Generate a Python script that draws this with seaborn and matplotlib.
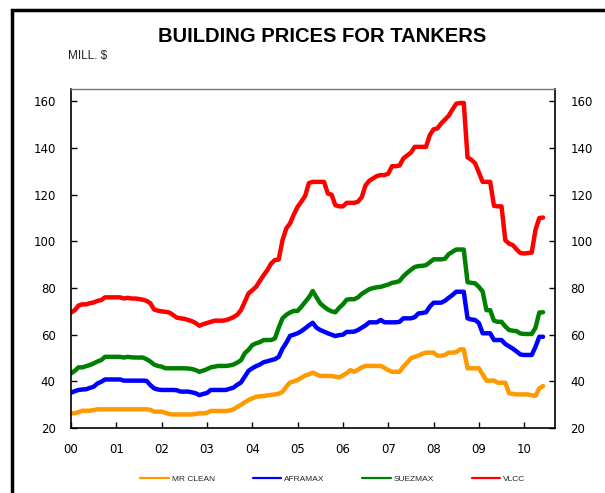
import numpy as np
import pandas as pd
import seaborn as sns
import matplotlib
matplotlib.use("Agg")
import matplotlib.pyplot as plt
from matplotlib.patches import Rectangle
from matplotlib.lines import Line2D

# ---- data (monthly, Jan 2000 .. Jun 2010), MILL. $ ----
year_labels = ["00", "01", "02", "03", "04", "05", "06", "07", "08", "09", "10"]
series_names = ["MR CLEAN", "AFRAMAX", "SUEZMAX", "VLCC"]
series_colors = ["#FF9900", "#0000FF", "#008000", "#FF0000"]

mr_clean = [
    26.3, 26.3, 26.8, 27.4, 27.4, 27.4, 27.7, 28, 28, 28, 28, 28,
    28, 28, 28, 28, 28, 28, 28, 28, 28, 27.8, 27, 27,
    27, 26.5, 26, 25.8, 25.8, 25.8, 25.8, 25.8, 25.8, 26, 26.3, 26.3,
    26.5, 27.3, 27.3, 27.3, 27.3, 27.3, 27.5, 28, 29, 29.9, 31, 32,
    32.7, 33.4, 33.6, 33.7, 34, 34.2, 34.4, 34.7, 35.5, 37.7, 39.5, 40,
    40.6, 41.5, 42.5, 43, 43.7, 43, 42.3, 42.3, 42.3, 42.3, 42, 41.7,
    42.5, 43.5, 44.8, 44.1, 45, 46, 46.6, 46.6, 46.6, 46.6, 46.6, 45.8,
    44.8, 44.1, 44.1, 44.1, 46.3, 48, 49.9, 50.5, 51, 51.8, 52.3, 52.3,
    52.3, 51, 51, 51.3, 52.3, 52.3, 52.5, 53.7, 53.7, 45.6, 45.6, 45.6,
    45.6, 43, 40.3, 40.3, 40.3, 39.4, 39.4, 39.4, 34.9, 34.6, 34.4, 34.4,
    34.4, 34.4, 34, 33.8, 37, 38,
]
aframax = [
    35.1, 35.8, 36.3, 36.5, 36.6, 37.2, 37.7, 39.1, 39.8, 40.8, 40.8, 40.8,
    40.8, 40.8, 40.3, 40.3, 40.3, 40.3, 40.3, 40.3, 40.2, 38.4, 37, 36.5,
    36.3, 36.3, 36.3, 36.3, 36.2, 35.6, 35.6, 35.6, 35.3, 34.9, 34.1, 34.6,
    35, 36.3, 36.3, 36.3, 36.3, 36.3, 36.8, 37.3, 38.5, 39.5, 42, 44.5,
    45.6, 46.5, 47.2, 48.2, 48.6, 49.1, 49.5, 50.5, 54, 56.5, 59.5, 60,
    60.6, 61.5, 62.7, 64, 65.1, 63, 62, 61.3, 60.6, 60, 59.4, 59.8,
    60, 61.2, 61.2, 61.3, 62, 63, 64, 65.3, 65.3, 65.3, 66.3, 65.3,
    65.3, 65.3, 65.3, 65.5, 67, 67, 67, 67.5, 69.1, 69.3, 69.6, 72,
    73.7, 73.7, 73.7, 74.5, 75.8, 77, 78.4, 78.4, 78.4, 67, 66.5, 66.3,
    65, 60.6, 60.6, 60.6, 57.7, 57.7, 57.7, 56, 55, 54, 52.8, 51.5,
    51.3, 51.3, 51.3, 54.8, 59.1, 59.1,
]
suezmax = [
    43.4, 44.5, 46, 46, 46.5, 47, 47.7, 48.5, 49.1, 50.5, 50.5, 50.5,
    50.5, 50.5, 50.2, 50.5, 50.3, 50.2, 50.2, 50.2, 49.5, 48.5, 47.2, 46.6,
    46.3, 45.6, 45.6, 45.6, 45.6, 45.6, 45.6, 45.5, 45.3, 44.8, 44.1, 44.6,
    45.2, 46, 46.3, 46.6, 46.6, 46.6, 46.8, 47.2, 48, 49, 52, 53.5,
    55.5, 56.3, 56.8, 57.7, 57.7, 57.7, 58.4, 63, 67, 68.5, 69.5, 70.2,
    70.2, 72, 74, 76, 78.7, 76, 73.4, 72, 70.8, 70, 69.6, 71.5,
    73, 75, 75.2, 75.2, 76, 77.5, 78.5, 79.5, 80, 80.3, 80.5, 81,
    81.5, 82.2, 82.5, 83, 85, 86.5, 87.8, 89, 89.4, 89.5, 89.8, 91,
    92.3, 92.3, 92.3, 92.5, 94.5, 95.5, 96.5, 96.5, 96.5, 82.5, 82.2, 82,
    80.5, 78.5, 70.5, 70.5, 66, 65.5, 65.5, 63.5, 62, 61.7, 61.5, 60.5,
    60.3, 60.3, 60.3, 63, 69.5, 69.6,
]
vlcc = [
    69.5, 70.5, 72.5, 73, 73, 73.5, 73.8, 74.5, 74.8, 76, 76, 76,
    76, 76, 75.5, 75.8, 75.5, 75.5, 75.3, 75, 74.5, 73.5, 70.8, 70.3,
    70, 69.8, 69.5, 68.5, 67.3, 67, 66.8, 66.3, 65.8, 65, 63.8, 64.5,
    65, 65.5, 66, 66, 66, 66.2, 66.8, 67.5, 68.5, 70.5, 74, 77.7,
    79, 80.5, 83, 85.5, 87.7, 90.5, 92, 92.2, 100.5, 105.5, 107.7, 111.5,
    114.8, 117, 119.5, 125, 125.5, 125.5, 125.5, 125.5, 120.5, 120, 115.5, 115,
    115, 116.5, 116.5, 116.5, 117, 119, 124, 126, 127, 128, 128.4, 128.4,
    129, 132.2, 132.2, 132.5, 135.5, 136.8, 138, 140.5, 140.5, 140.5, 140.5, 145.5,
    148, 148.4, 150.5, 152.2, 153.8, 156.5, 159, 159.3, 159.3, 136, 135, 133.5,
    129.5, 125.5, 125.5, 125.5, 115.2, 115, 115, 100.5, 99, 98.4, 96.5, 95,
    94.8, 95, 95.2, 105, 110, 110.2,
]

n = len(vlcc)
t = np.arange(n) / 12.0  # years since Jan 2000

df = pd.concat([
    pd.DataFrame({"t": t, "value": vals, "series": name})
    for name, vals in zip(series_names, [mr_clean, aframax, suezmax, vlcc])
], ignore_index=True)

sns.set_theme(style="white")
plt.rcParams["font.family"] = ["DejaVu Sans"]

fig = plt.figure(figsize=(6.05, 4.93), dpi=100)
ax = fig.add_axes([71/605, 1 - 428/493, (555-71)/605, (428-89)/493])

sns.lineplot(data=df, x="t", y="value", hue="series", hue_order=series_names,
             palette=dict(zip(series_names, series_colors)), linewidth=3.2,
             ax=ax, legend=False, estimator=None, sort=False)

ax.set_xlim(0, 10.68)
ax.set_ylim(20, 165.3)
ax.set_xticks(range(len(year_labels)))
ax.set_xticklabels(year_labels)
ax.set_yticks(range(20, 161, 20))
ax.set_xlabel("")
ax.set_ylabel("")

for s in ax.spines.values():
    s.set_color("black")
    s.set_linewidth(1.2)
ax.spines["top"].set_color("#777777")
ax.spines["top"].set_linewidth(1.0)

ax.tick_params(axis="y", which="both", left=True, right=True, labelleft=True,
               labelright=True, direction="in", length=4, width=1,
               labelsize=8.5, pad=11, colors="black")
ax.tick_params(axis="x", which="both", bottom=True, top=False, direction="in",
               length=4, width=1, labelsize=8.5, pad=11, colors="black")

fig.text(322/605, 1 - 37/493, "BUILDING PRICES FOR TANKERS", ha="center", va="center",
         fontsize=14.5, fontweight="bold", family="Liberation Sans", color="black")
fig.text(68/605, 1 - 56/493, "MILL. $", ha="left", va="center",
         fontsize=8.5, family="Liberation Sans", color="#222222")

# Legend
handles = [Line2D([0], [0], color=c, lw=1.6) for c in series_colors]
leg = fig.legend(handles, series_names, loc="center", ncol=4,
                 bbox_to_anchor=(333/605, 1 - 479/493), frameon=False,
                 prop={"family": "Liberation Sans", "size": 6},
                 handlelength=3.4, handletextpad=0.4, columnspacing=4.5)

# outer frame
fig.patches.append(Rectangle((12/605, -0.2), 2.0, 1 - 10/493 + 0.2,
                             transform=fig.transFigure, fill=False,
                             edgecolor="black", linewidth=2.5, zorder=10))

fig.savefig("out.png", dpi=100)
